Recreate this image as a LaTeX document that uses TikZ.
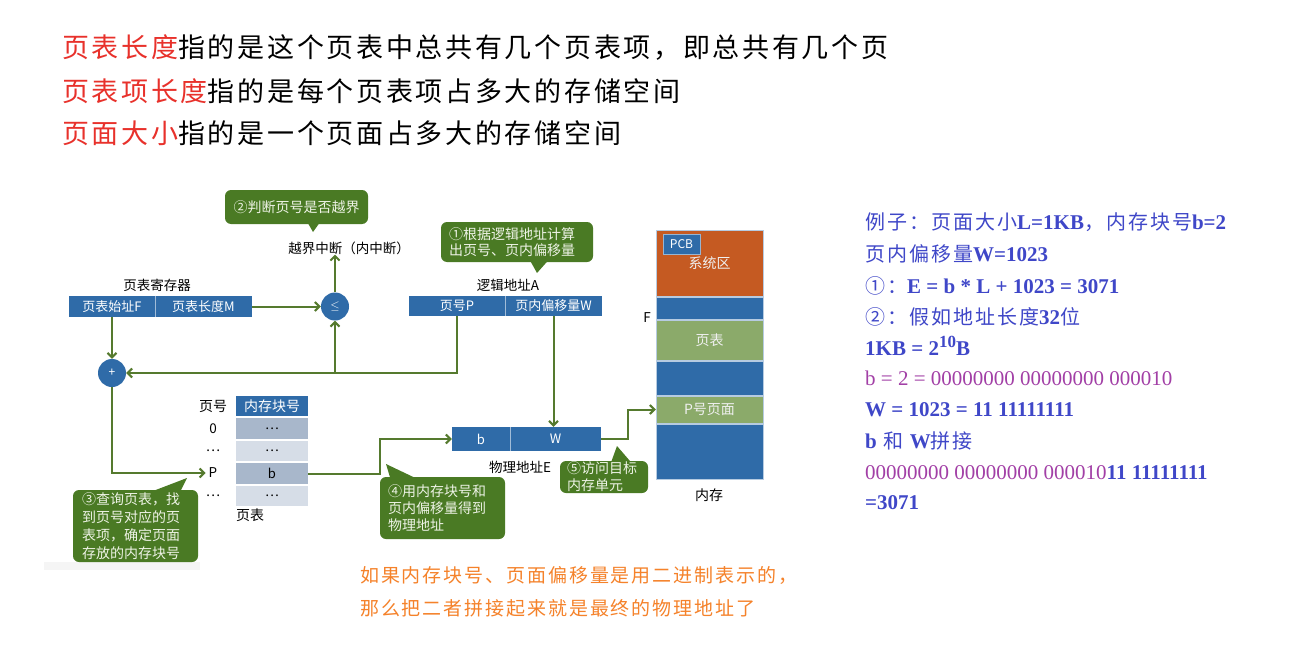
\documentclass[tikz,border=0pt]{standalone}
\usepackage{fontspec}
\setmainfont{Noto Sans CJK SC}
\newfontfamily\ser{Liberation Serif}
\newfontfamily\spaced[LetterSpace=10]{Noto Sans CJK SC}
\usetikzlibrary{arrows.meta,calc}
\definecolor{blu}{HTML}{2F6BA8}
\definecolor{ora}{HTML}{C55A22}
\definecolor{lgr}{HTML}{8BAA6A}
\definecolor{cgr}{HTML}{4A7A24}
\definecolor{lin}{HTML}{557A2E}
\definecolor{rowA}{HTML}{A8B7CB}
\definecolor{rowB}{HTML}{D6DDE7}
\definecolor{redt}{HTML}{E8312B}
\definecolor{rblue}{HTML}{3F47C8}
\definecolor{rpurp}{HTML}{A23FA6}
\definecolor{otext}{HTML}{F5822A}
\definecolor{ctext}{HTML}{EEF3E6}
\newcommand\rs[1]{{\ser\bfseries\fontsize{21}{21}\selectfont #1}}
\newcommand\rp[1]{{\ser\fontsize{21}{21}\selectfont\color{rpurp}#1}}
\tikzset{
  bar/.style={fill=blu, text=white, minimum height=21pt, inner sep=0pt, font=\fontsize{13}{13}\selectfont},
  circ/.style={circle, fill=blu, text=white, minimum size=28pt, inner sep=0pt, font=\fontsize{12}{12}\selectfont},
  lab/.style={inner sep=0pt, font=\fontsize{13.5}{14}\selectfont},
  conn/.style={draw=lin, line width=2pt, -{Straight Barb[length=4.5pt,width=9pt]}},
  callbox/.style={fill=cgr, rounded corners=6pt, text=ctext, align=left, inner ysep=0pt,
     font=\fontsize{14}{18}\selectfont},
  row/.style={minimum width=72pt, minimum height=20.5pt, inner sep=0pt, font=\fontsize{13}{13}\selectfont},
  mem/.style={minimum width=107pt, inner sep=0pt, text=white!88!gray, draw=blu!35!white, line width=0.5pt,
     font=\fontsize{14}{14}\selectfont},
  rt/.style={anchor=base west, inner sep=0pt, text=rblue, font=\fontsize{20}{20}\spaced},
}
\begin{document}
\begin{tikzpicture}[x=1pt,y=-1pt]
\useasboundingbox (0,0) rectangle (1291,661);
\fill[white] (0,0) rectangle (1291,661);
\fill[black!4] (44,562) rectangle (200,570);

% ---------- top text ----------
\node[anchor=base west, inner sep=0pt, font=\fontsize{27}{27}\spaced] (t1) at (62,58)
  {{\color{redt}页表长度}指的是这个页表中总共有几个页表项，即总共有几个页};
\node[anchor=base west, inner sep=0pt, font=\fontsize{27}{27}\spaced] (t2) at (62,101)
  {{\color{redt}页表项长度}指的是每个页表项占多大的存储空间};
\node[anchor=base west, inner sep=0pt, font=\fontsize{27}{27}\spaced] (t3) at (62,143)
  {{\color{redt}页面大小}指的是一个页面占多大的存储空间};

% ---------- page table register ----------
\node[lab] (reglab) at (157,285) {页表寄存器};
\node[bar, minimum width=86pt] (regF) at (112,306.5) {页表始址F};
\node[bar, minimum width=97pt] (regM) at (203.5,306.5) {页表长度M};
\draw[blu!45!white, line width=0.6pt] (regF.north east) -- (regF.south east);

\node[circ] (le) at (335,306.5) {$\le$};
\node[circ] (plus) at (112,373) {+};
\node[lab] (intr) at (349,248) {越界中断（内中断）};

% ---------- logical address ----------
\node[lab] (lalab) at (508,285) {逻辑地址A};
\node[bar, minimum width=96pt, minimum height=20pt] (laP) at (457,306) {页号P};
\node[bar, minimum width=97pt, minimum height=20pt] (laW) at (553.5,306) {页内偏移量W};
\draw[blu!45!white, line width=0.6pt] (laP.north east) -- (laP.south east);

% ---------- physical address ----------
\node[bar, minimum width=58pt, minimum height=24pt] (paB) at (481,439) {b};
\node[bar, minimum width=91pt, minimum height=24pt] (paW) at (555.5,439) {W};
\draw[blu!45!white, line width=0.6pt] (paB.north east) -- (paB.south east);
\node[lab] (palab) at (520,467) {物理地址E};

% ---------- page table ----------
\node[row, fill=blu, text=white, minimum height=20pt, font=\fontsize{14}{14}\selectfont] (ptH) at (272,406) {内存块号};
\node[row, fill=rowA] (pt0) at (272,428.5) {…};
\node[row, fill=rowB] (pt1) at (272,451) {…};
\node[row, fill=rowA] (pt2) at (272,473.5) {b};
\node[row, fill=rowB] (pt3) at (272,496) {…};
\node[lab, font=\fontsize{14}{14}\selectfont] (labH) at (213,406) {页号};
\node[lab] (lab0) at (213,429) {0};
\node[lab] (lab1) at (213,451) {…};
\node[lab, inner sep=3pt] (labP) at (213,473) {P};
\node[lab] (lab3) at (213,496) {…};
\node[lab, font=\fontsize{14}{14}\selectfont] (ptname) at (250,515) {页表};

% ---------- memory ----------
\node[mem, fill=ora, minimum height=66pt] (sys) at (709.5,263) {系统区};
\node[mem, fill=blu, minimum height=22pt] (m1) at (709.5,308) {};
\node[mem, fill=lgr, minimum height=40pt] (m2) at (709.5,340) {页表};
\node[mem, fill=blu, minimum height=34pt] (m3) at (709.5,378) {};
\node[mem, fill=lgr, minimum height=27pt] (m4) at (709.5,409.5) {P号页面};
\node[mem, fill=blu, minimum height=55pt] (m5) at (709.5,451.5) {};
\node[fill=blu, draw=blu!50!white, line width=0.6pt, text=white, minimum width=37pt, minimum height=20pt,
      inner sep=0pt, font=\fontsize{12}{12}\selectfont] (pcb) at (681.5,244) {PCB};
\node[lab] (flab) at (647,318) {F};
\node[lab, font=\fontsize{14}{14}\selectfont] (memlab) at (709,495) {内存};

% ---------- connectors ----------
\coordinate (j1) at (380,439);
\coordinate (j2) at (628,424);
\draw[conn] (regM.east) -- (le.west);
\draw[conn] (le.north) -- (le.north |- intr.south);
\draw[conn] (regF.south) -- (plus.north);
\draw[conn] (laP.south) |- (plus.east);
\draw[conn] (le.south |- plus.east) -- (le.south);
\draw[conn] (plus.south) |- (labP.west);
\draw[conn] (pt2.east) -| (j1) -- (paB.west);
\draw[conn] (laW.south) -- (laW.south |- paW.north);
\draw[conn] (paW.east) -| (j2) |- (m4.west);

% ---------- callouts (tails first, boxes on top) ----------
\fill[cgr] (305,218) -- (313,232) -- (323,218) -- cycle;
\fill[cgr] (527,255) -- (537,273) -- (553,255) -- cycle;
\fill[cgr] (140,496) -- (187,478) -- (178,496) -- cycle;
\fill[cgr] (392,484) -- (386,464) -- (428,484) -- cycle;
\fill[cgr] (609,468) -- (617,446) -- (636,468) -- cycle;
\node[callbox, minimum width=143pt, minimum height=34pt, align=center, inner xsep=0pt] (c2) at (296.5,207) {②判断页号是否越界};
\node[callbox, inner xsep=8pt, text width=136pt, minimum height=40pt, font=\fontsize{14}{16.5}\selectfont] (c1) at (517,242) {①根据逻辑地址计算\\出页号、页内偏移量};
\node[callbox, inner xsep=9pt, text width=107pt, minimum height=72pt] (c3) at (135.5,526) {③查询页表，找\\到页号对应的页\\表项，确定页面\\存放的内存块号};
\node[callbox, inner xsep=8pt, text width=109pt, minimum height=62pt, font=\fontsize{14}{17}\selectfont] (c4) at (442.5,508) {④用内存块号和\\页内偏移量得到\\物理地址};
\node[callbox, inner xsep=7pt, text width=74pt, minimum height=32pt, font=\fontsize{14}{17}\selectfont] (c5) at (604,477) {⑤访问目标\\内存单元};

% ---------- right text ----------
\node[rt] (r1) at (865,229) {例子：页面大小\rs{L=1KB}，内存块号\rs{b=2}};
\node[rt] (r2) at (865,261) {页内偏移量\rs{W=1023}};
\node[rt] (r3) at (865,293) {①：\rs{E = b * L + 1023 = 3071}};
\node[rt] (r4) at (865,324) {②：假如地址长度\rs{32}位};
\node[rt] (r5) at (865,355) {\rs{1KB = 2\raisebox{8pt}{\fontsize{17}{17}\selectfont 10}B}};
\node[rt] (r6) at (865,385) {\rp{b = 2 = 00000000 00000000 000010}};
\node[rt] (r7) at (865,416) {\rs{W = 1023 = 11 11111111}};
\node[rt] (r8) at (865,448) {\rs{b} 和 \rs{W}拼接};
\node[rt] (r9) at (865,479) {\rp{00000000 00000000 000010}\rs{11 11111111}};
\node[rt] (r10) at (865,509) {\rs{=3071}};

% ---------- bottom orange text ----------
\node[anchor=base west, inner sep=0pt, text=otext, font=\fontsize{19}{19}\spaced] (b1) at (360,582)
  {如果内存块号、页面偏移量是用二进制表示的，};
\node[anchor=base west, inner sep=0pt, text=otext, font=\fontsize{19}{19}\spaced] (b2) at (360,615)
  {那么把二者拼接起来就是最终的物理地址了};
\end{tikzpicture}
\end{document}
